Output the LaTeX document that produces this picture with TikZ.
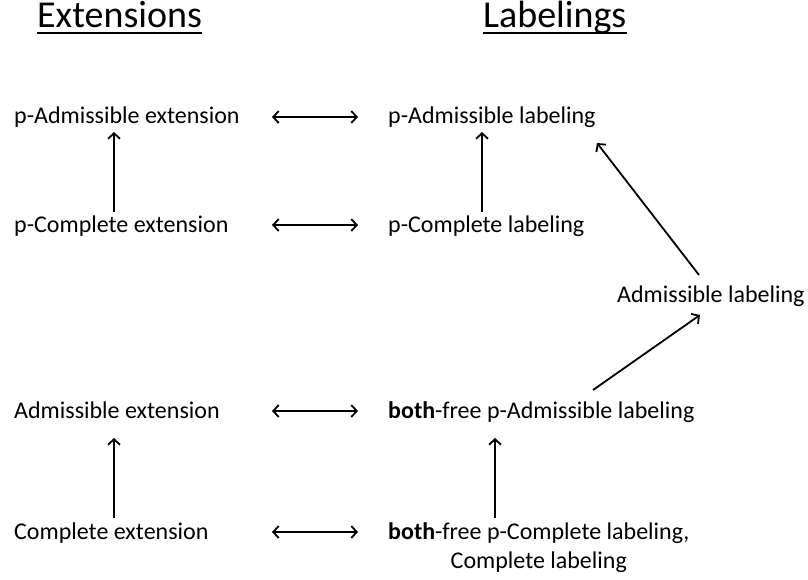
\documentclass[tikz,border=0pt]{standalone}
\usepackage{fontspec}
\setmainfont{Carlito}
\usetikzlibrary{arrows.meta}
\begin{document}
\begin{tikzpicture}[x=1pt, y=-1pt, >={Straight Barb[length=5.5pt,width=12pt]},
		lbl/.style={anchor=base west, inner sep=0pt, font=\fontsize{24}{29}\selectfont},
		ttl/.style={anchor=base west, inner sep=0pt, font=\fontsize{38}{44}\selectfont},
		link/.style={line width=1.8pt}]
		\useasboundingbox (0,0) rectangle (808,579);
		% column titles
		\node[ttl] (exttitle) at (37,27) {Extensions};
		\node[ttl] (labtitle) at (483,27) {Labelings};
		\draw[line width=2.5pt] ([yshift=-6pt]exttitle.base west) -- ([yshift=-6pt]exttitle.base east);
		\draw[line width=2.5pt] ([yshift=-6pt]labtitle.base west) -- ([yshift=-6pt]labtitle.base east);
		% extensions
		\node[lbl] (pae) at (14,123) {p-Admissible extension};
		\node[lbl] (pce) at (14,232) {p-Complete extension};
		\node[lbl] (ae) at (14,418) {Admissible extension};
		\node[lbl] (ce) at (14,539) {Complete extension};
		% labelings
		\node[lbl] (pal) at (388,123) {p-Admissible labeling};
		\node[lbl] (pcl) at (388,232) {p-Complete labeling};
		\node[lbl] (al) at (617,302) {Admissible labeling};
		\node[lbl] (bfpal) at (388,418) {\textbf{both}-free p-Admissible labeling};
		\node[lbl] (bfpcl) at (388,539) {\textbf{both}-free p-Complete labeling,};
		\node[lbl, anchor=base] (cl) at ([yshift=-29pt]bfpcl.base) {Complete labeling};
		% correspondences
		\draw[link,<->] ([xshift=-116pt,yshift=6pt]pal.base west) -- ([xshift=-30pt,yshift=6pt]pal.base west);
		\draw[link,<->] ([xshift=-116pt,yshift=7pt]pcl.base west) -- ([xshift=-30pt,yshift=7pt]pcl.base west);
		\draw[link,<->] ([xshift=-116pt,yshift=7pt]bfpal.base west) -- ([xshift=-30pt,yshift=7pt]bfpal.base west);
		\draw[link,<->] ([xshift=-116pt,yshift=7pt]bfpcl.base west) -- ([xshift=-30pt,yshift=7pt]bfpcl.base west);
		% implications
		\draw[link,->] ([xshift=100pt,yshift=20pt]pce.base west) -- ([xshift=100pt,yshift=-9pt]pae.base west);
		\draw[link,->] ([xshift=94pt,yshift=20pt]pcl.base west) -- ([xshift=94pt,yshift=-9pt]pal.base west);
		\draw[link,->] ([xshift=100pt,yshift=21pt]ce.base west) -- ([xshift=100pt,yshift=-20pt]ae.base west);
		\draw[link,->] ([xshift=107pt,yshift=21pt]bfpcl.base west) -- ([xshift=107pt,yshift=-20pt]bfpal.base west);
		\draw[link,->] ([xshift=82pt,yshift=27pt]al.base west) -- ([xshift=209pt,yshift=-20pt]pal.base west);
		\draw[link,->] ([xshift=205pt,yshift=28pt]bfpal.base west) -- ([xshift=83pt,yshift=-13pt]al.base west);
	\end{tikzpicture}
\end{document}
